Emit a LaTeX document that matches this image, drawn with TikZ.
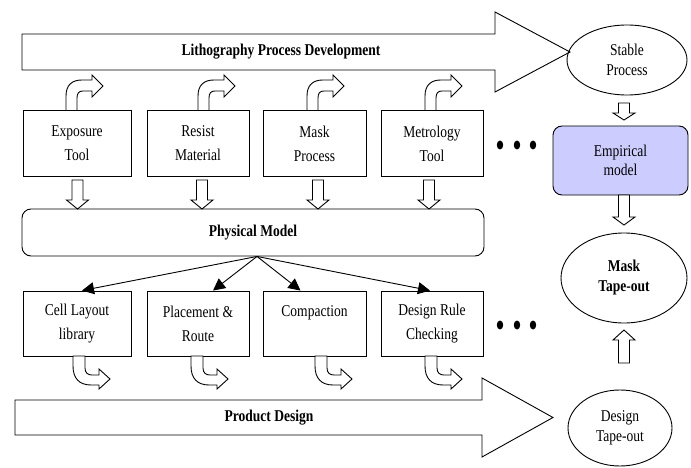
\documentclass[tikz,border=0pt]{standalone}
\usepackage{fontspec}
\setmainfont{Liberation Serif}[FakeStretch=0.82]
\usetikzlibrary{positioning,arrows.meta,shapes.geometric}

\definecolor{Empirical}{HTML}{CCCCFF}

\tikzset{
  stepbox/.style={draw, line width=0.9pt, minimum height=66pt, align=center, font=\fontsize{16.5}{24}\selectfont},
  roundbox/.style={draw, line width=0.9pt, rounded corners=9pt, align=center},
  goal/.style={draw, ellipse, line width=0.9pt, inner sep=0pt, align=center, font=\fontsize{16.5}{20}\selectfont},
  blockarrow/.style={draw, line width=0.9pt, fill=white, line join=miter},
  thinarrow/.style={line width=0.9pt, -{Triangle[length=12pt,width=12pt]}},
}

\begin{document}
\begin{tikzpicture}[x=1pt, y={(0pt,-1pt)}]

 \useasboundingbox (0,0) rectangle (691,468);

 %%%%%%%%%% Big process arrows %%%%%%%%%%
 \draw [blockarrow] (22,34) -- (495,34) -- (495,12) -- (570,52) -- (495,92) -- (495,70) -- (22,70) -- cycle ;
 \node (litho) at (281,52) {\fontsize{16.5}{18}\selectfont\bfseries Lithography Process Development};

 \draw [blockarrow] (15,400) -- (482,400) -- (482,378) -- (553,417.5) -- (482,457) -- (482,435) -- (15,435) -- cycle ;
 \node (product) at (269,417.5) {\fontsize{16.5}{18}\selectfont\bfseries Product Design};

 %%%%%%%%%% Process boxes %%%%%%%%%%
 \node [stepbox, minimum width=108pt] (exposure) at (77,143.5) {Exposure\\Tool};
 \node [stepbox, minimum width=102pt] (resist) at (198,143.5) {Resist\\Material};
 \node [stepbox, minimum width=103pt] (mask) at (314.5,143.5) {Mask\\Process};
 \node [stepbox, minimum width=102pt] (metrology) at (432,143.5) {Metrology\\Tool};

 \node [roundbox, minimum width=462pt, minimum height=47pt] (physical) at (253,232.5) {\fontsize{16.5}{18}\selectfont\bfseries Physical Model};

 %%%%%%%%%% Design boxes %%%%%%%%%%
 \node [stepbox, minimum width=108pt, minimum height=65pt] (cell) at (77,323.5) {Cell Layout\\library};
 \node [stepbox, minimum width=102pt, minimum height=65pt] (placement) at (198,323.5) {Placement \&\\Route};
 \node [stepbox, minimum width=103pt, minimum height=65pt] (compaction) at (314.5,323.5) {Compaction\\~};
 \node [stepbox, minimum width=102pt, minimum height=65pt] (drc) at (432,323.5) {Design Rule\\Checking};

 %%%%%%%%%% Right column %%%%%%%%%%
 \node [goal, minimum width=120pt, minimum height=70pt] (stable) at (627,60) {Stable\\Process};
 \node [roundbox, fill=Empirical, minimum width=135pt, minimum height=69pt, font=\fontsize{16.5}{19}\selectfont] (empirical) at (620.5,160.5) {Empirical\\model};
 \node [goal, minimum width=126pt, minimum height=90pt, font=\fontsize{16.5}{20}\selectfont\bfseries] (masktape) at (624,278) {Mask\\Tape-out};
 \node [goal, minimum width=104pt, minimum height=76pt] (designtape) at (620,428) {Design\\Tape-out};

 %%%%%%%%%% Dots %%%%%%%%%%
 \fill (500,145) ellipse (3.2 and 4.5) ;
 \fill (517,145) ellipse (3.2 and 4.5) ;
 \fill (533,145) ellipse (3.2 and 4.5) ;
 \fill (500,325) ellipse (3.2 and 4.5) ;
 \fill (517,325) ellipse (3.2 and 4.5) ;
 \fill (533,325) ellipse (3.2 and 4.5) ;

 %%%%%%%%%% Bent arrows into the process bar %%%%%%%%%%
 \draw [blockarrow, shift={(66,110)}] (0,0) -- (0,-14) .. controls (0,-25) and (6,-30) .. (16,-30) -- (26,-30) -- (26,-35) -- (37,-24) -- (26,-13) -- (26,-19) -- (17,-19) .. controls (13,-19) and (11,-17) .. (11,-12) -- (11,0) ;
 \draw [blockarrow, shift={(198,110)}] (0,0) -- (0,-14) .. controls (0,-25) and (6,-30) .. (16,-30) -- (26,-30) -- (26,-35) -- (37,-24) -- (26,-13) -- (26,-19) -- (17,-19) .. controls (13,-19) and (11,-17) .. (11,-12) -- (11,0) ;
 \draw [blockarrow, shift={(307,110)}] (0,0) -- (0,-14) .. controls (0,-25) and (6,-30) .. (16,-30) -- (26,-30) -- (26,-35) -- (37,-24) -- (26,-13) -- (26,-19) -- (17,-19) .. controls (13,-19) and (11,-17) .. (11,-12) -- (11,0) ;
 \draw [blockarrow, shift={(425,110)}] (0,0) -- (0,-14) .. controls (0,-25) and (6,-30) .. (16,-30) -- (26,-30) -- (26,-35) -- (37,-24) -- (26,-13) -- (26,-19) -- (17,-19) .. controls (13,-19) and (11,-17) .. (11,-12) -- (11,0) ;

 %%%%%%%%%% Bent arrows into the design bar %%%%%%%%%%
 \draw [blockarrow, shift={(73,356)}] (0,0) -- (12,0) -- (12,12) .. controls (12,17) and (15,19) .. (19,19) -- (26,19) -- (26,13) -- (37,23) -- (26,33) -- (26,29) -- (18,29) .. controls (6,29) and (0,22) .. (0,10) -- cycle ;
 \draw [blockarrow, shift={(191,356)}] (0,0) -- (12,0) -- (12,12) .. controls (12,17) and (15,19) .. (19,19) -- (26,19) -- (26,13) -- (37,23) -- (26,33) -- (26,29) -- (18,29) .. controls (6,29) and (0,22) .. (0,10) -- cycle ;
 \draw [blockarrow, shift={(315,356)}] (0,0) -- (12,0) -- (12,12) .. controls (12,17) and (15,19) .. (19,19) -- (26,19) -- (26,13) -- (37,23) -- (26,33) -- (26,29) -- (18,29) .. controls (6,29) and (0,22) .. (0,10) -- cycle ;
 \draw [blockarrow, shift={(425,356)}] (0,0) -- (12,0) -- (12,12) .. controls (12,17) and (15,19) .. (19,19) -- (26,19) -- (26,13) -- (37,23) -- (26,33) -- (26,29) -- (18,29) .. controls (6,29) and (0,22) .. (0,10) -- cycle ;

 %%%%%%%%%% Down arrows into the physical model %%%%%%%%%%
 \draw [blockarrow, shift={(77.5,180)}] (-5.5,0) -- (5.5,0) -- (5.5,20) -- (11,20) -- (0,29) -- (-11,20) -- (-5.5,20) -- cycle ;
 \draw [blockarrow, shift={(202,180)}] (-5.5,0) -- (5.5,0) -- (5.5,20) -- (11,20) -- (0,29) -- (-11,20) -- (-5.5,20) -- cycle ;
 \draw [blockarrow, shift={(318,180)}] (-5.5,0) -- (5.5,0) -- (5.5,20) -- (11,20) -- (0,29) -- (-11,20) -- (-5.5,20) -- cycle ;
 \draw [blockarrow, shift={(429,180)}] (-5.5,0) -- (5.5,0) -- (5.5,20) -- (11,20) -- (0,29) -- (-11,20) -- (-5.5,20) -- cycle ;

 %%%%%%%%%% Right column arrows %%%%%%%%%%
 \draw [blockarrow, shift={(624,103)}] (-5.5,0) -- (5.5,0) -- (5.5,10) -- (11,10) -- (0,17) -- (-11,10) -- (-5.5,10) -- cycle ;
 \draw [blockarrow, shift={(624,195)}] (-5.5,0) -- (5.5,0) -- (5.5,22) -- (11,22) -- (0,30) -- (-11,22) -- (-5.5,22) -- cycle ;
 \draw [blockarrow, shift={(624,363)}] (-5.5,0) -- (5.5,0) -- (5.5,-23) -- (11,-23) -- (0,-33) -- (-11,-23) -- (-5.5,-23) -- cycle ;

 %%%%%%%%%% Physical model to design steps %%%%%%%%%%
 \draw [thinarrow] ([xshift=4pt]physical.south) -- ([xshift=5pt]cell.north) ;
 \draw [thinarrow] ([xshift=4pt]physical.south) -- ([xshift=15pt]placement.north) ;
 \draw [thinarrow] ([xshift=4pt]physical.south) -- ([xshift=-14pt]compaction.north) ;
 \draw [thinarrow] ([xshift=4pt]physical.south) -- ([xshift=-2pt]drc.north) ;

\end{tikzpicture}
\end{document}
